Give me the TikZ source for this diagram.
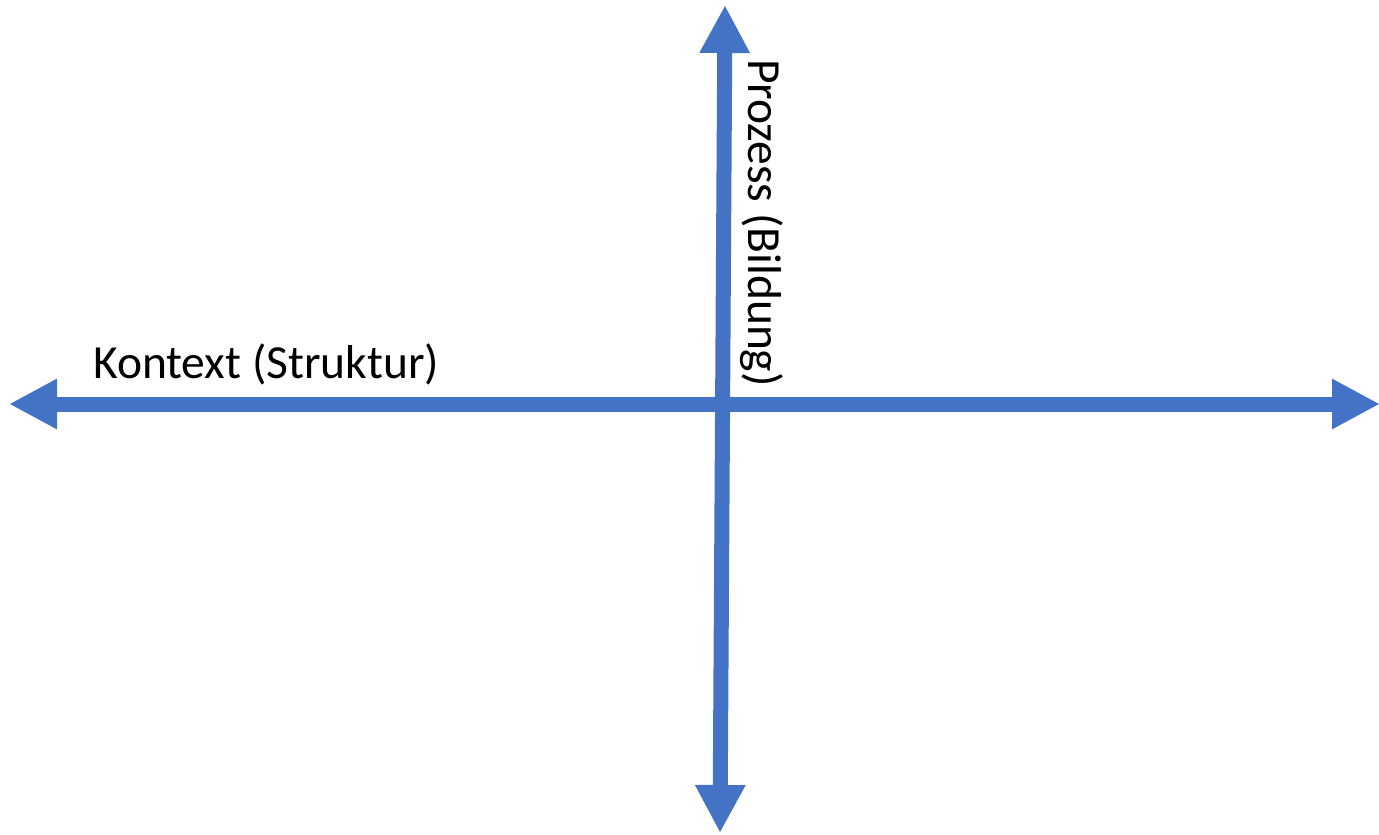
\documentclass[tikz,border=0pt]{standalone}
\usepackage{fontspec}
\setmainfont{Carlito}
\usetikzlibrary{arrows.meta}
\definecolor{axisblue}{HTML}{4472C4}
\tikzset{
  axis/.style={draw=axisblue, line width=15pt,
    {Triangle[length=48pt,width=47pt,fill=axisblue]}-{Triangle[length=48pt,width=47pt,fill=axisblue]}},
  label/.style={inner sep=0pt, font=\fontsize{47.5pt}{57pt}\selectfont, text=black}
}
\begin{document}
\begin{tikzpicture}[x=1pt,y=-1pt]
\useasboundingbox (0,0) rectangle (1379,835);
\coordinate (L) at (9,404);
\coordinate (R) at (1380,404);
\coordinate (T) at (725,5);
\coordinate (B) at (720,833);
\draw[axis] (L) -- (R);
\draw[axis] (B) -- (T);
\node[label, anchor=base west] (kontext) at (93,378) {Kontext (Struktur)};
\node[label, anchor=base west, rotate=-90] (prozess) at (748,59) {Prozess (Bildung)};
\end{tikzpicture}
\end{document}
